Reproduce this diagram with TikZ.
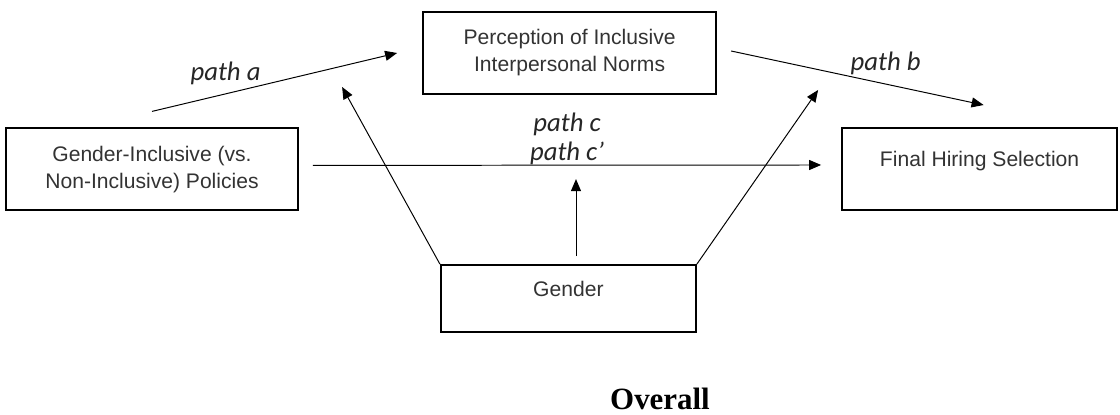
\documentclass[tikz,border=0pt]{standalone}
\usepackage{fontspec}
\usepackage{xcolor}
\usepackage{tikz}
\usetikzlibrary{arrows.meta}
\newfontfamily\boxfont{Liberation Sans}
\newfontfamily\pathfont{Carlito}
\newfontfamily\titlefont{Liberation Serif}

\begin{document}
\begin{tikzpicture}[
      >={Triangle[length=0.3cm,width=0.25cm]},
      box/.style={draw,line width=1.4pt,minimum height=2.05cm,align=center,inner sep=2pt,text=black!80,font=\boxfont\fontsize{15}{19.2}\selectfont},
      upper/.style={text height=0.4cm,text depth=0.5cm},
      arrow/.style={->,line width=0.7pt},
      pathlabel/.style={font=\pathfont\itshape\fontsize{19}{21}\selectfont,text=black!85,align=center}
    ]
      \useasboundingbox (0,0) rectangle (28,10.375);

      \node[box,minimum width=7.3cm] (pol) at (3.8,6.14) {Gender-Inclusive (vs.\\Non-Inclusive) Policies};
      \node[box,minimum width=7.325cm] (norms) at (14.24,9.05) {Perception of Inclusive\\Interpersonal Norms};
      \node[box,upper,minimum width=6.875cm] (hire) at (24.49,6.15) {Final Hiring Selection};
      \node[box,upper,minimum width=6.375cm,minimum height=1.675cm] (gender) at (14.21,2.91) {Gender};

      \draw[arrow] ([yshift=0.4cm]pol.north) -- node[pathlabel,above,pos=0.3,yshift=0.1cm]{path a} ([xshift=-0.625cm]norms.west);
      \draw[arrow] ([xshift=0.35cm,yshift=0.05cm]norms.east) -- node[pathlabel,above,pos=0.58,yshift=0.05cm,xshift=0.2cm]{path b} ([xshift=0.1cm,yshift=0.55cm]hire.north);
      \draw[arrow] ([xshift=0.35cm,yshift=0.1cm]pol.east) -- node[pathlabel,above,yshift=-0.13cm]{path c\\path c’} ([xshift=-0.5cm,yshift=0.1cm]hire.west);

      \draw[arrow] ([xshift=0.19cm,yshift=0.2cm]gender.north) -- ++(0,1.925);
      \draw[arrow] (gender.north west) -- ([xshift=-2cm,yshift=0.2cm]norms.south west);
      \draw[arrow] (gender.north east) -- ([xshift=2.525cm,yshift=0.125cm]norms.south east);

      \node[font=\titlefont\bfseries\fontsize{22}{26}\selectfont] (title) at (16.5,0.4) {Overall};
    \end{tikzpicture}
\end{document}
